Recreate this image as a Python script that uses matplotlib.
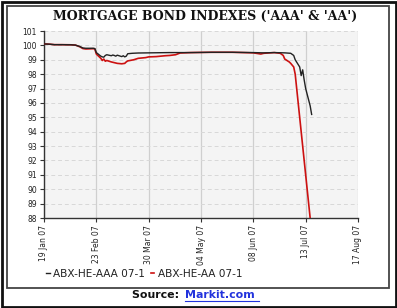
import matplotlib
matplotlib.use("Agg")
import matplotlib.pyplot as plt
from matplotlib.patches import Rectangle
import pandas as pd

aaa_dates = ["2007-01-19", "2007-01-23", "2007-01-26", "2007-01-31", "2007-02-06", "2007-02-09",
             "2007-02-12", "2007-02-14", "2007-02-16", "2007-02-21", "2007-02-22", "2007-02-23",
             "2007-02-26", "2007-02-27", "2007-02-28", "2007-03-01", "2007-03-02", "2007-03-05",
             "2007-03-06", "2007-03-07", "2007-03-08", "2007-03-09", "2007-03-12", "2007-03-13",
             "2007-03-14", "2007-03-15", "2007-03-16", "2007-03-19", "2007-03-23", "2007-03-30",
             "2007-04-13", "2007-04-27", "2007-05-11", "2007-05-25", "2007-06-08", "2007-06-15",
             "2007-06-22", "2007-06-29", "2007-07-03", "2007-07-05", "2007-07-06", "2007-07-09",
             "2007-07-10", "2007-07-11", "2007-07-12", "2007-07-13", "2007-07-16", "2007-07-17"]
aaa_values = [100.10, 100.08, 100.05, 100.05, 100.04, 100.02,
              99.92, 99.82, 99.80, 99.80, 99.78, 99.50,
              99.25, 99.20, 99.18, 99.30, 99.35, 99.28,
              99.33, 99.30, 99.25, 99.32, 99.22, 99.28,
              99.20, 99.25, 99.42, 99.45, 99.47, 99.48,
              99.50, 99.50, 99.52, 99.52, 99.50, 99.48,
              99.50, 99.48, 99.45, 99.30, 99.00, 98.50,
              97.90, 98.30, 97.60, 97.00, 95.80, 95.20]

aa_dates = ["2007-01-19", "2007-01-23", "2007-01-26", "2007-01-31", "2007-02-06", "2007-02-09",
            "2007-02-12", "2007-02-14", "2007-02-16", "2007-02-21", "2007-02-22", "2007-02-23",
            "2007-02-26", "2007-02-27", "2007-02-28", "2007-03-01", "2007-03-02", "2007-03-05",
            "2007-03-07", "2007-03-09", "2007-03-12", "2007-03-14", "2007-03-15", "2007-03-16",
            "2007-03-20", "2007-03-23", "2007-03-28", "2007-03-30", "2007-04-04", "2007-04-10",
            "2007-04-13", "2007-04-17", "2007-04-20", "2007-04-27", "2007-05-11", "2007-05-25",
            "2007-06-08", "2007-06-13", "2007-06-15", "2007-06-22", "2007-06-26", "2007-06-28",
            "2007-06-29", "2007-07-02", "2007-07-03", "2007-07-05", "2007-07-06", "2007-07-09",
            "2007-07-10", "2007-07-11", "2007-07-12", "2007-07-13", "2007-07-16", "2007-07-17"]
aa_values = [100.10, 100.08, 100.05, 100.05, 100.04, 100.02,
             99.90, 99.78, 99.75, 99.77, 99.75, 99.40,
             99.10, 98.95, 99.05, 98.90, 98.95, 98.85,
             98.80, 98.75, 98.72, 98.75, 98.85, 98.92,
             99.00, 99.10, 99.15, 99.20, 99.22, 99.28,
             99.30, 99.35, 99.47, 99.50, 99.52, 99.52,
             99.48, 99.40, 99.45, 99.50, 99.45, 99.30,
             99.05, 98.85, 98.75, 98.50, 98.00, 95.00,
             94.00, 93.00, 92.00, 91.00, 88.00, 87.00]

tick_dates = ["2007-01-19", "2007-02-23", "2007-03-30", "2007-05-04", "2007-06-08", "2007-07-13", "2007-08-17"]
tick_labels = ["19 Jan 07", "23 Feb 07", "30 Mar 07", "04 May 07", "08 Jun 07", "13 Jul 07", "17 Aug 07"]
y_ticks = list(range(88, 102))
series_names = ["ABX-HE-AAA 07-1", "ABX-HE-AA 07-1"]

W, H = 397, 308
fig = plt.figure(figsize=(W / 100, H / 100), dpi=100)
fig.patch.set_facecolor("white")

# frames
fig.patches.append(Rectangle((1.5 / W, 1.5 / H), (W - 3) / W, (H - 3) / H, transform=fig.transFigure,
                             fill=False, edgecolor="#111111", linewidth=2.0))
fig.patches.append(Rectangle((6.5 / W, 1 - 288 / H), (389 - 6.5) / W, (288 - 5.5) / H, transform=fig.transFigure,
                             fill=False, edgecolor="#444444", linewidth=1.3))

ax = fig.add_axes([44 / W, 1 - 218 / H, (358 - 44) / W, (218 - 31) / H])
ax.set_facecolor("#f4f4f4")

d_aaa = pd.to_datetime(aaa_dates)
d_aa = pd.to_datetime(aa_dates)
ax.plot(d_aa, aa_values, color="#cc1111", linewidth=1.2, label=series_names[1], zorder=3)
ax.plot(d_aaa, aaa_values, color="#222222", linewidth=1.0, label=series_names[0], zorder=4)

ax.set_ylim(88, 101)
ax.set_xlim(pd.Timestamp("2007-01-19"), pd.Timestamp("2007-08-17"))
ax.set_yticks(y_ticks)
ax.set_yticklabels([str(v) for v in y_ticks], fontsize=5.5, color="#222222")
ax.set_xticks(pd.to_datetime(tick_dates))
ax.set_xticklabels(tick_labels, rotation=90, fontsize=5.5, color="#222222")
ax.tick_params(axis="both", direction="out", length=3, width=0.8, color="#333333", pad=2)

ax.grid(axis="x", color="#cfcfcf", linewidth=0.9, linestyle="-")
ax.grid(axis="y", color="#d8d8d8", linewidth=0.7, linestyle=(0, (4, 3)))
ax.set_axisbelow(True)
for s in ["top", "right"]:
    ax.spines[s].set_visible(False)
for s in ["left", "bottom"]:
    ax.spines[s].set_color("#333333")
    ax.spines[s].set_linewidth(1.0)

# legend
handles, labels = ax.get_legend_handles_labels()
order = [1, 0]
leg = fig.legend([handles[i] for i in order], [labels[i] for i in order], ncol=2, frameon=False,
                 fontsize=7.6, handlelength=0.35, handletextpad=0.35, columnspacing=0.5,
                 borderpad=0, borderaxespad=0,
                 loc="center left", bbox_to_anchor=(46 / W, 1 - 274 / H))
for t in leg.get_texts():
    t.set_color("#222222")

# title
fig.text(205 / W, 1 - 16 / H, "MORTGAGE BOND INDEXES ('AAA' & 'AA')", ha="center", va="center",
         fontsize=9, fontweight="bold", family="DejaVu Serif", color="#111111")

# source
fig.text(183 / W, 1 - 295 / H, "Source: ", ha="right", va="center", fontsize=7.9,
         fontweight="bold", family="DejaVu Sans", color="#111111")
fig.text(185 / W, 1 - 295 / H, "Markit.com", ha="left", va="center", fontsize=7.9,
         fontweight="bold", family="DejaVu Sans", color="#2233dd")
fig.lines.append(plt.Line2D([185 / W, 259 / W], [1 - 300.5 / H, 1 - 300.5 / H], transform=fig.transFigure,
                            color="#2233dd", linewidth=0.8))

fig.savefig("out.png", dpi=100)
